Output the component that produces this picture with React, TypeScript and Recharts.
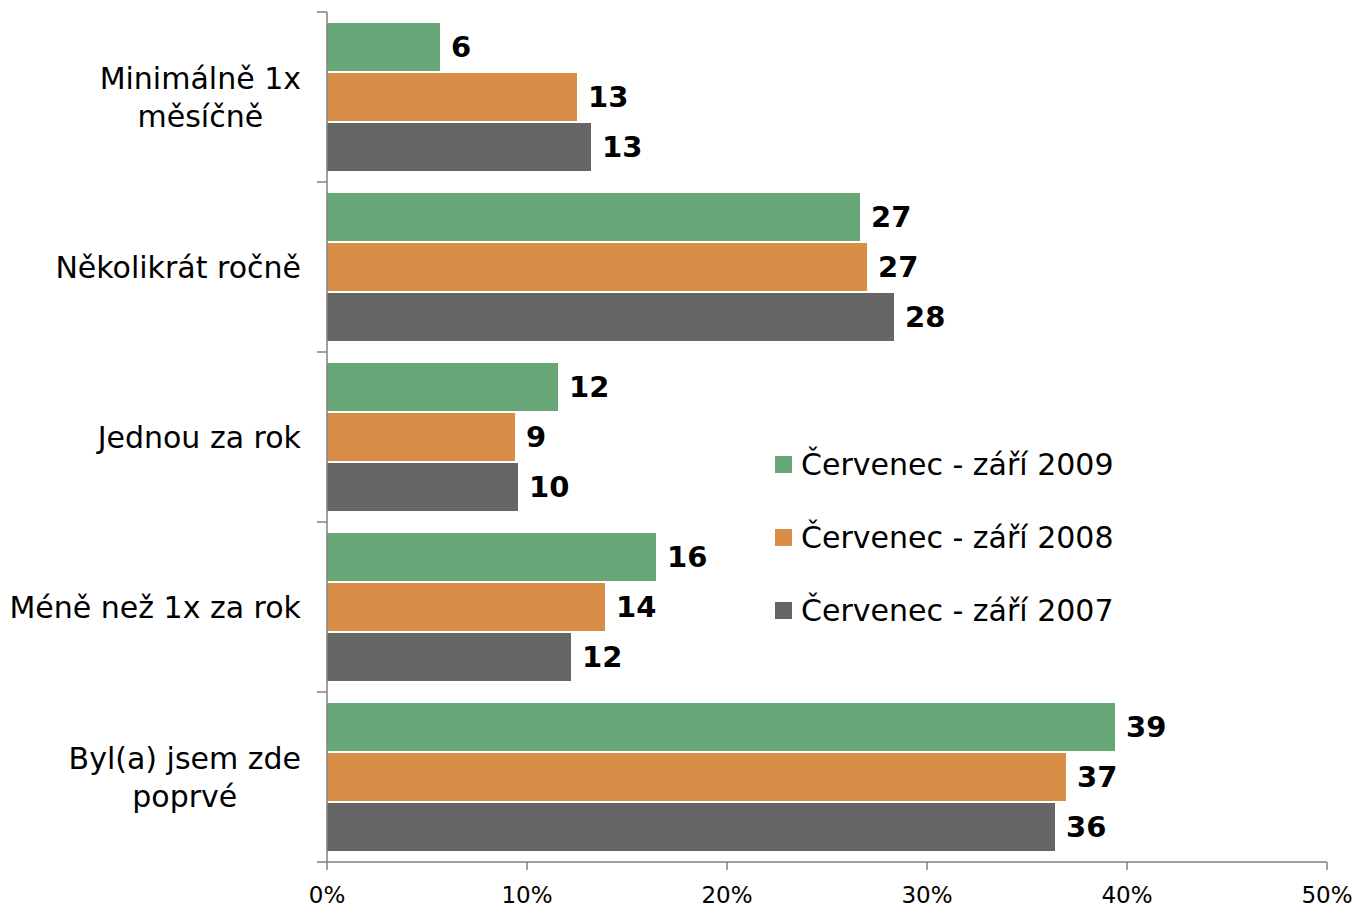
import { Bar, BarChart, XAxis, YAxis, LabelList, Legend } from 'recharts';

const WIDTH = 1355;
const HEIGHT = 907;
const MARGIN = { top: 12, right: 28, bottom: 0, left: 0 };
const X_AXIS_HEIGHT = 45;
const Y_AXIS_WIDTH = 327;
const FONT = '"DejaVu Sans", Verdana, sans-serif';
const AXIS_COLOR = '#808080';

const categories = [
  'Minimálně 1x\nměsíčně',
  'Několikrát ročně',
  'Jednou za rok',
  'Méně než 1x za rok',
  'Byl(a) jsem zde\npoprvé',
];

const series2009 = [5.65, 26.65, 11.55, 16.45, 39.4];
const series2008 = [12.5, 27.0, 9.4, 13.9, 36.95];
const series2007 = [13.2, 28.35, 9.55, 12.2, 36.4];

const seriesNames = ['Červenec - září 2009', 'Červenec - září 2008', 'Červenec - září 2007'];
const seriesColors = ['#67A777', '#D98E47', '#666666'];

const xTicks = [0, 10, 20, 30, 40, 50];

const data = categories.map((cat, i) => ({
  cat,
  s2009: series2009[i],
  s2008: series2008[i],
  s2007: series2007[i],
}));

let measureCtx: CanvasRenderingContext2D | null = null;
function textWidth(text: string, font: string) {
  if (!measureCtx) measureCtx = document.createElement('canvas').getContext('2d');
  if (!measureCtx) return text.length * 16;
  measureCtx.font = font;
  return measureCtx.measureText(text).width;
}

const CAT_FONT_SIZE = 30;
const LINE_HEIGHT = 38;
const TICK_MARGIN = 26;
const TICK_LEN = 10;

function CategoryTick(props: any) {
  const { x, y, payload, index } = props;
  const lines: string[] = String(payload.value).split('\n');
  const maxW = Math.max(...lines.map((l) => textWidth(l, `${CAT_FONT_SIZE}px "DejaVu Sans"`)));
  const cx = x - maxW / 2;
  const axisX = x + TICK_MARGIN;
  const plotHeight = HEIGHT - MARGIN.top - MARGIN.bottom - X_AXIS_HEIGHT;
  const band = plotHeight / categories.length;
  return (
    <g>
      <line x1={axisX - TICK_LEN} x2={axisX} y1={y - band / 2} y2={y - band / 2} stroke={AXIS_COLOR} strokeWidth={1.5} />
      {index === categories.length - 1 && (
        <line x1={axisX - TICK_LEN} x2={axisX} y1={y + band / 2} y2={y + band / 2} stroke={AXIS_COLOR} strokeWidth={1.5} />
      )}
      {lines.map((line, i) => (
        <text
          key={i}
          x={lines.length > 1 ? cx : x}
          y={y + (i - (lines.length - 1) / 2) * LINE_HEIGHT}
          dy="0.36em"
          textAnchor={lines.length > 1 ? 'middle' : 'end'}
          fill="#000"
          fontSize={CAT_FONT_SIZE}
          fontFamily={FONT}
        >
          {line}
        </text>
      ))}
    </g>
  );
}

function LegendContent() {
  return (
    <div style={{ fontFamily: FONT, fontSize: 30, color: '#000' }}>
      {seriesNames.map((name, i) => (
        <div key={name} style={{ display: 'flex', alignItems: 'center', height: 73 }}>
          <span style={{ display: 'inline-block', width: 17, height: 17, background: seriesColors[i], marginRight: 9 }} />
          <span style={{ whiteSpace: 'nowrap' }}>{name}</span>
        </div>
      ))}
    </div>
  );
}

const labelStyle = { fill: '#000', fontSize: 29, fontWeight: 'bold' as const, fontFamily: FONT };

export default function App() {
  return (
    <div style={{ width: WIDTH, height: HEIGHT }}>
      <style>{'body{margin:0;}'}</style>
      <BarChart
        layout="vertical"
        width={WIDTH}
        height={HEIGHT}
        data={data}
        margin={MARGIN}
        barCategoryGap={11}
        barGap={2}
        style={{ fontFamily: FONT }}
      >
        <XAxis
          type="number"
          domain={[0, 50]}
          ticks={xTicks}
          tickFormatter={(v: number) => `${v}%`}
          height={X_AXIS_HEIGHT}
          tickSize={8}
          tickMargin={17}
          interval={0}
          axisLine={{ stroke: AXIS_COLOR, strokeWidth: 1.5 }}
          tickLine={{ stroke: AXIS_COLOR, strokeWidth: 1.5 }}
          tick={{ fill: '#000', fontSize: 23, fontFamily: FONT }}
        />
        <YAxis
          type="category"
          dataKey="cat"
          width={Y_AXIS_WIDTH}
          tickLine={false}
          tickSize={0}
          tickMargin={TICK_MARGIN}
          interval={0}
          axisLine={{ stroke: AXIS_COLOR, strokeWidth: 1.5 }}
          tick={<CategoryTick />}
        />
        <Legend
          layout="vertical"
          align="center"
          verticalAlign="middle"
          content={<LegendContent />}
          wrapperStyle={{ left: 775, top: 428, width: 'auto' }}
        />
        <Bar dataKey="s2009" name={seriesNames[0]} fill={seriesColors[0]} isAnimationActive={false}>
          <LabelList dataKey="s2009" position="right" offset={11} formatter={(v: any) => Math.round(Number(v))} style={labelStyle} />
        </Bar>
        <Bar dataKey="s2008" name={seriesNames[1]} fill={seriesColors[1]} isAnimationActive={false}>
          <LabelList dataKey="s2008" position="right" offset={11} formatter={(v: any) => Math.round(Number(v))} style={labelStyle} />
        </Bar>
        <Bar dataKey="s2007" name={seriesNames[2]} fill={seriesColors[2]} isAnimationActive={false}>
          <LabelList dataKey="s2007" position="right" offset={11} formatter={(v: any) => Math.round(Number(v))} style={labelStyle} />
        </Bar>
      </BarChart>
    </div>
  );
}
